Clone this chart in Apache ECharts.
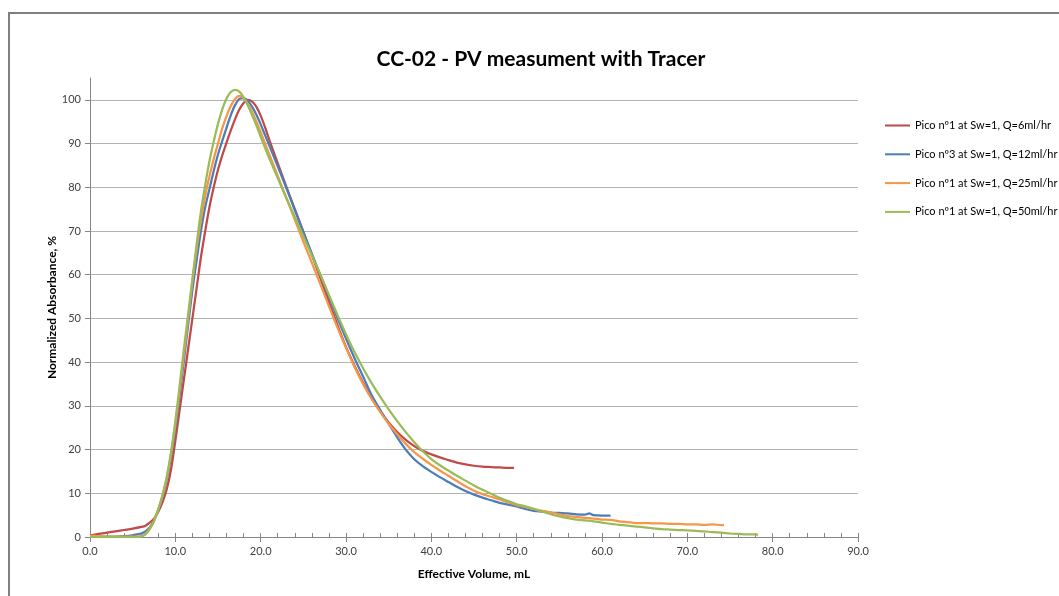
<!DOCTYPE html>
<html>
<head>
<meta charset="utf-8">
<script src="https://cdn.jsdelivr.net/npm/echarts@6/dist/echarts.min.js"></script>
<style>
html,body{margin:0;padding:0;background:#fff;}
#chart{width:1059px;height:596px;}
</style>
</head>
<body>
<div id="chart"></div>
<script>
const seriesNames = [
  'Pico nº1 at Sw=1, Q=6ml/hr',
  'Pico nº3 at Sw=1, Q=12ml/hr',
  'Pico nº1 at Sw=1, Q=25ml/hr',
  'Pico nº1 at Sw=1, Q=50ml/hr'
];
const xTicks = [0, 10, 20, 30, 40, 50, 60, 70, 80, 90];
const yTicks = [0, 10, 20, 30, 40, 50, 60, 70, 80, 90, 100];

// Q=6 ml/hr (red)
const q6 = [[0,0.4],[1,0.7],[2,1.0],[3,1.3],[4,1.6],[5,1.9],[6,2.3],[6.5,2.6],[7,3.3],[7.5,4.2],[8,5.8],[8.5,8.0],[9,11],[9.5,15.5],[10,22],[10.5,29],[11,36],[11.5,43],[12,50],[12.5,57],[13,64],[13.5,70],[14,75.5],[14.5,80],[15,84],[15.5,87.3],[16,90.2],[16.5,93],[17,95.6],[17.5,97.8],[18,99.3],[18.5,100],[19,99.6],[19.5,98.4],[20,96.4],[20.5,93.8],[21,90.9],[22,85.5],[23,80.2],[24,75],[25,69.8],[26,64.5],[27,59.2],[28,53.8],[29,48.5],[30,43.5],[31,39.2],[32,35.3],[33,31.8],[34,28.8],[35,26.2],[36,24],[37,22.2],[38,20.8],[39,19.7],[40,18.9],[41,18.2],[42,17.6],[43,17.0],[44,16.6],[45,16.3],[46,16.1],[47,16.0],[48,15.9],[49,15.8],[49.7,15.8]];

// Q=12 ml/hr (blue)
const q12 = [[0,0.2],[1,0.1],[2,0.1],[3,0.1],[4,0.2],[5,0.4],[5.5,0.6],[6,0.8],[6.5,1.3],[7,2.2],[7.5,3.8],[8,6.2],[8.5,9.3],[9,13.2],[9.5,18.3],[10,24.8],[10.5,32.3],[11,40.3],[11.5,48.5],[12,56.5],[12.5,63.4],[13,70],[13.5,75.5],[14,79.6],[14.5,83.8],[15,87.5],[15.5,90.6],[16,93.6],[16.5,96.5],[17,98.8],[17.5,100.2],[18,100.4],[18.5,99.8],[19,98.4],[19.5,96.6],[20,94.4],[20.5,92],[21,89.6],[22,84.8],[23,79.9],[24,74.8],[25,69.8],[26,64.8],[27,59.9],[28,55],[29,50.1],[30,45.4],[31,40.9],[32,36.7],[33,32.5],[34,29.1],[35,25.9],[36,22.8],[37,20],[38,17.8],[39,16.2],[40,14.9],[41,13.7],[42,12.6],[43,11.5],[44,10.5],[45,9.7],[46,9.0],[47,8.4],[48,7.8],[49,7.4],[50,7.0],[51,6.4],[52,6.0],[53,5.8],[54,5.6],[55,5.5],[56,5.4],[57,5.2],[58,5.1],[58.5,5.4],[59,5.0],[60,4.9],[61,4.9]];

// Q=25 ml/hr (orange)
const q25 = [[0,0.3],[1,0.2],[2,0.1],[3,0.1],[4,0.1],[5,0.1],[6,0.2],[6.5,0.7],[7,1.9],[7.5,3.7],[8,6.3],[8.5,9.5],[9,13.6],[9.5,19],[10,25.8],[10.5,33.5],[11,41.8],[11.5,50],[12,58.5],[12.5,66],[13,72.5],[13.5,78],[14,82.5],[14.5,86.5],[15,90],[15.5,93.5],[16,96.3],[16.5,98.6],[17,100.2],[17.5,100.9],[18,100.4],[18.5,99.1],[19,97.2],[19.5,95],[20,92.6],[20.5,90.1],[21,87.6],[22,82.6],[23,77.6],[24,72.6],[25,67.6],[26,62.7],[27,57.8],[28,52.8],[29,47.9],[30,43.3],[31,38.9],[32,35],[33,31.6],[34,28.6],[35,25.9],[36,23.5],[37,21.3],[38,19.4],[39,17.9],[40,16.5],[41,15.2],[42,14],[43,12.8],[44,11.6],[45,10.6],[46,9.8],[47,9.2],[48,8.6],[49,7.9],[50,7.3],[51,6.9],[52,6.4],[53,6],[54,5.6],[55,5.2],[56,4.8],[57,4.6],[58,4.4],[59,4.2],[60,4.0],[61,3.9],[62,3.6],[63,3.4],[64,3.2],[65,3.2],[66,3.1],[67,3.1],[68,3.0],[69,3.0],[70,2.9],[71,2.9],[72,2.8],[73,2.9],[74,2.7],[74.3,2.7]];

// Q=50 ml/hr (green)
const q50 = [[0,0],[1,0],[2,0],[3,0],[4,0],[5,0],[6,0.1],[6.5,0.6],[7,1.8],[7.5,3.6],[8,6.3],[8.5,9.6],[9,13.8],[9.5,19.5],[10,26.5],[10.5,34.5],[11,43],[11.5,51],[12,59],[12.5,67],[13,74.5],[13.5,80.5],[14,86],[14.5,90.5],[15,94.5],[15.5,97.8],[16,100.3],[16.5,101.8],[17,102.3],[17.5,101.9],[18,100.6],[18.5,98.7],[19,96.5],[19.5,94.1],[20,91.6],[20.5,89.1],[21,86.7],[22,82.1],[23,77.6],[24,73.2],[25,68.8],[26,64.4],[27,60],[28,55.4],[29,50.8],[30,46.4],[31,42.3],[32,38.6],[33,35.2],[34,32.1],[35,29.2],[36,26.5],[37,24],[38,21.7],[39,19.6],[40,17.8],[41,16.4],[42,15.2],[43,14.0],[44,12.9],[45,11.8],[46,10.8],[47,9.9],[48,9.0],[49,8.2],[50,7.5],[51,7.0],[52,6.4],[53,5.8],[54,5.2],[55,4.7],[56,4.3],[57,4],[58,3.8],[59,3.6],[60,3.3],[61,3.0],[62,2.8],[63,2.6],[64,2.4],[65,2.2],[66,2.0],[67,1.8],[68,1.7],[69,1.6],[70,1.5],[71,1.4],[72,1.3],[73,1.1],[74,1.0],[75,0.8],[76,0.7],[77,0.6],[78,0.6],[78.3,0.5]];

const seriesData = [q6, q12, q25, q50];
const colors = ['#BE4B48', '#4A7EBB', '#F79646', '#9BBB59'];
const FONT = 'Lato';

const chart = echarts.init(document.getElementById('chart'), null, {renderer: 'canvas'});
chart.setOption({
  animation: false,
  backgroundColor: '#fff',
  color: colors,
  textStyle: {fontFamily: FONT},
  title: {
    text: 'CC-02 - PV measument with Tracer',
    left: 536, top: 44, textAlign: 'center',
    textStyle: {fontFamily: FONT, fontSize: 21, fontWeight: 'bold', color: '#000'}
  },
  graphic: [{
    type: 'rect', shape: {x: 9, y: 13, width: 1100, height: 700},
    style: {fill: 'none', stroke: '#7f7f7f', lineWidth: 2}, silent: true, z: 100
  }],
  legend: {
    orient: 'vertical', left: 880, top: 115, itemWidth: 25, itemHeight: 2, itemGap: 17.8,
    icon: 'rect',
    textStyle: {fontFamily: FONT, fontSize: 11, color: '#000'},
    data: seriesNames
  },
  grid: {left: 90, right: 201, top: 78, bottom: 59, containLabel: false},
  xAxis: [{
    type: 'value', min: xTicks[0], max: xTicks[xTicks.length - 1], interval: 10,
    name: 'Effective Volume, mL', nameLocation: 'middle', nameGap: 31,
    nameTextStyle: {fontFamily: FONT, fontSize: 12, fontWeight: 'bold', color: '#000'},
    axisLine: {show: true, lineStyle: {color: '#868686', width: 1}},
    axisTick: {show: true, length: 5, lineStyle: {color: '#868686'}},
    axisLabel: {fontFamily: FONT, fontSize: 11, color: '#404040', margin: 9,
      formatter: v => v.toFixed(1)},
    splitLine: {show: false}
  }, {
    type: 'value', min: xTicks[0], max: xTicks[xTicks.length - 1], interval: 2,
    position: 'bottom', gridIndex: 0,
    axisLine: {show: false},
    axisTick: {show: true, inside: true, length: 4, lineStyle: {color: '#868686'}},
    axisLabel: {show: false},
    splitLine: {show: false}
  }],
  yAxis: {
    type: 'value', min: yTicks[0], max: 105, interval: 10,
    name: 'Normalized Absorbance, %', nameLocation: 'middle', nameGap: 32, nameMoveOverlap: false,
    nameTextStyle: {fontFamily: FONT, fontSize: 12, fontWeight: 'bold', color: '#000'},
    axisLine: {show: true, lineStyle: {color: '#868686', width: 1}},
    axisTick: {show: true, length: 5, lineStyle: {color: '#868686'}},
    axisLabel: {fontFamily: FONT, fontSize: 11, color: '#404040', margin: 9, showMaxLabel: false,
      formatter: v => (yTicks.indexOf(v) >= 0 ? String(v) : '')},
    splitLine: {show: true, showMaxLine: false, lineStyle: {color: '#b3b3b3', width: 1}}
  },
  series: seriesData.map((d, i) => ({
    name: seriesNames[i], type: 'line', data: d, xAxisIndex: 0,
    symbol: 'none', smooth: 0.3, lineStyle: {width: 2.25, color: colors[i]}, itemStyle: {color: colors[i]}
  }))
});
</script>
</body>
</html>
